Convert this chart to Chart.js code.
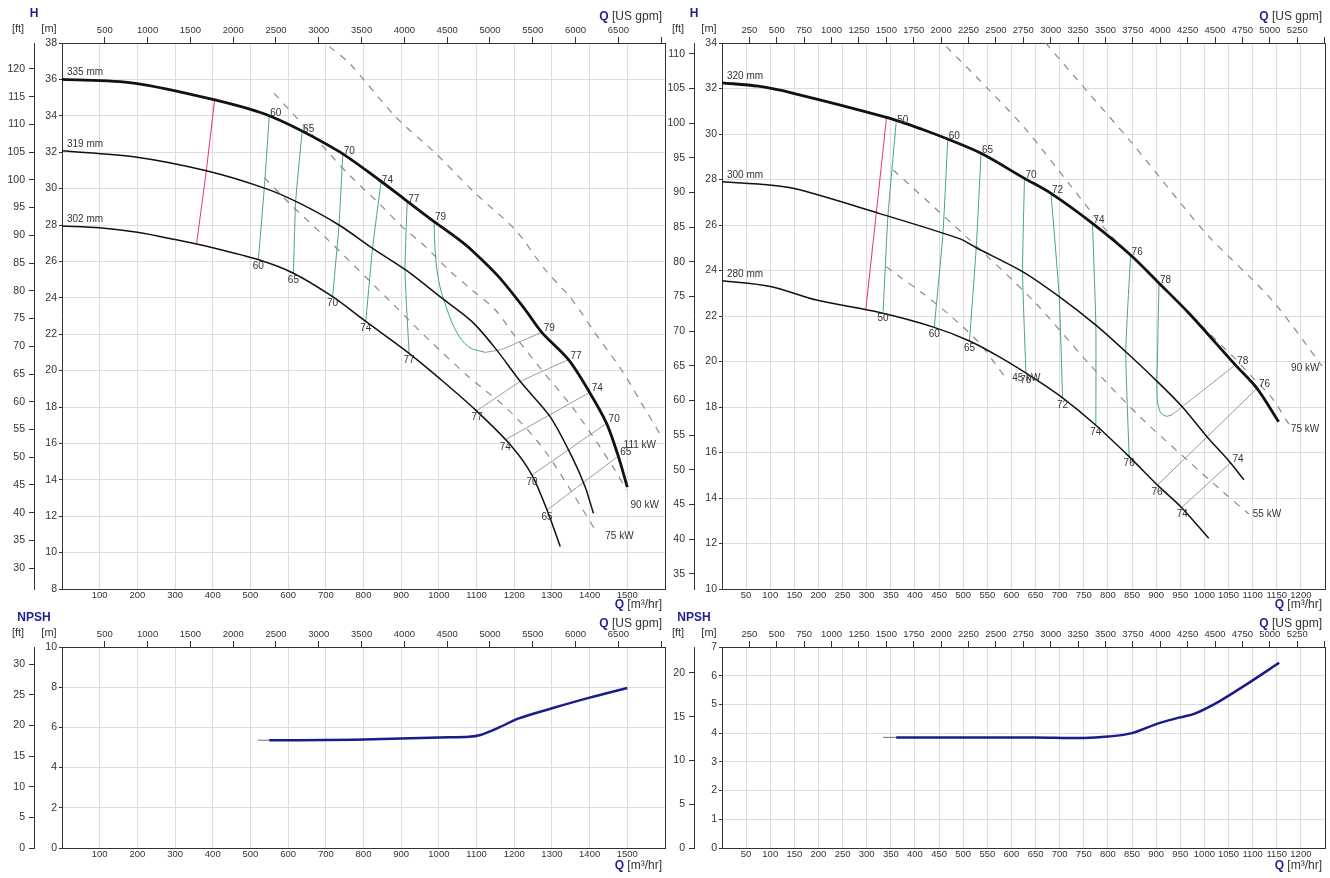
<!DOCTYPE html>
<html><head><meta charset="utf-8">
<script src="https://cdn.jsdelivr.net/npm/chart.js@4.4.1/dist/chart.umd.min.js"></script>
<style>
html,body{margin:0;padding:0;background:#fff;}
body{width:1330px;height:878px;position:relative;overflow:hidden;}
.panel{position:absolute;}
canvas{display:block;}
</style></head><body>
<div class="panel" style="left:0;top:0;"><canvas id="hL" width="668" height="612"></canvas></div>
<div class="panel" style="left:660px;top:0;"><canvas id="hR" width="670" height="612"></canvas></div>
<div class="panel" style="left:0;top:612px;"><canvas id="nL" width="668" height="266"></canvas></div>
<div class="panel" style="left:660px;top:612px;"><canvas id="nR" width="670" height="266"></canvas></div>
<script>
// ---------- unit conversions ----------
const GPM = 4.402868;   // US gpm per m3/hr
const FT = 3.28084;     // ft per m

// ---------- LEFT pump: tick labels ----------
const L_qTicks   = [100,200,300,400,500,600,700,800,900,1000,1100,1200,1300,1400,1500];
const L_gpmTicks = [500,1000,1500,2000,2500,3000,3500,4000,4500,5000,5500,6000,6500,7000];
const L_mTicks   = [8,10,12,14,16,18,20,22,24,26,28,30,32,34,36,38];
const L_ftTicks  = [30,35,40,45,50,55,60,65,70,75,80,85,90,95,100,105,110,115,120];
const LN_mTicks  = [0,2,4,6,8,10];
const LN_ftTicks = [0,5,10,15,20,25,30];

// ---------- LEFT pump: impeller curves [Q m3/hr, H m] ----------
const L_names = ['335 mm','319 mm','302 mm'];
const L_h335 = [[0,36.0],[190,35.8],[400,34.9],[550,34.0],[730,32.1],[840,30.5],[910,29.4],[980,28.3],[1050,27.25],[1088,26.6],[1159,25.15],[1229,23.35],[1273,22.1],[1344,20.6],[1400,18.8],[1445,17.1],[1476,15.3],[1500,13.6]];
const L_h319 = [[0,32.08],[190,31.75],[383,30.98],[541,30.0],[630,29.2],[735,28.0],[824,26.72],[912,25.53],[1009,23.97],[1088,22.69],[1150,21.22],[1220,19.3],[1295,17.47],[1353,15.27],[1388,13.62],[1410,12.16]];
const L_h302 = [[0,27.95],[100,27.85],[200,27.6],[300,27.2],[400,26.75],[520,26.1],[614,25.35],[718,24.06],[806,22.7],[921,20.95],[1000,19.6],[1097,17.84],[1194,15.82],[1247,14.26],[1287,12.34],[1322,10.33]];

// iso-efficiency lines (%)
const L_effVals = [60,65,70,74,77];
const L_eff60 = [[550,34.0],[537,30.1],[521,26.1]];
const L_eff65 = [[637,33.1],[620,29.3],[614,25.35]];
const L_eff70 = [[745,31.9],[735,28.0],[718,24.06]];
const L_eff74 = [[846,30.3],[824,26.72],[806,22.7]];
const L_eff77 = [[916,29.28],[910,25.5],[921,20.95]];
const L_eff79a = [[987,28.27],[991,26.26],[1000,24.9],[1013,23.88],[1044,22.23],[1079,21.3],[1123,21.0]];
const L_eff79b = [[1123,21.0],[1167,21.17],[1216,21.6],[1273,22.1]];
const L_effBVals = [77,74,70,65];
const L_eff77b = [[1344,20.6],[1216,19.4],[1101,17.8]];
const L_eff74b = [[1400,18.8],[1176,16.2]];
const L_eff70b = [[1445,17.1],[1247,14.26]];
const L_eff65b = [[1476,15.3],[1287,12.34]];
const L_minFlow = [[405,34.87],[383,30.98],[357,26.95]];

// power lines
const L_powNames = ['111 kW','90 kW','75 kW'];
const L_p111 = [[709,37.8],[762,36.9],[885,33.95],[991,31.94],[1097,29.74],[1203,27.73],[1280,25.6],[1353,23.9],[1415,22.05],[1485,20.03],[1538,18.2],[1591,16.37]];
const L_p90  = [[563,35.23],[709,31.94],[762,30.75],[841,29.19],[903,27.9],[965,26.8],[1026,25.53],[1088,24.43],[1150,23.33],[1203,21.86],[1273,20.03],[1353,18.02],[1415,16.19],[1467,14.54],[1498,13.44]];
const L_p75  = [[537,30.6],[603,29.2],[700,27.3],[876,23.7],[974,21.68],[1079,19.66],[1185,17.83],[1273,15.82],[1344,13.62],[1415,11.24]];

// NPSH [Q, NPSH m]
const L_npshLead = [[519,5.36],[550,5.36]];
const L_npsh = [[550,5.36],[700,5.37],[850,5.42],[1000,5.5],[1080,5.53],[1110,5.62],[1160,6.0],[1212,6.45],[1300,6.95],[1400,7.48],[1500,7.96]];

// ---------- RIGHT pump: tick labels ----------
const R_qTicks   = [50,100,150,200,250,300,350,400,450,500,550,600,650,700,750,800,850,900,950,1000,1050,1100,1150,1200];
const R_gpmTicks = [250,500,750,1000,1250,1500,1750,2000,2250,2500,2750,3000,3250,3500,3750,4000,4250,4500,4750,5000,5250,5500];
const R_mTicks   = [10,12,14,16,18,20,22,24,26,28,30,32,34];
const R_ftTicks  = [35,40,45,50,55,60,65,70,75,80,85,90,95,100,105,110];
const RN_mTicks  = [0,1,2,3,4,5,6,7];
const RN_ftTicks = [0,5,10,15,20];

// ---------- RIGHT pump: impeller curves ----------
const R_names = ['320 mm','300 mm','280 mm'];
const R_h320 = [[0,32.25],[75,32.1],[148,31.79],[341,30.73],[416,30.2],[465,29.8],[537,29.15],[627,28.05],[682,27.39],[768,26.07],[847,24.68],[906,23.44],[968,22.12],[1064,19.85],[1109,18.82],[1154,17.35]];
const R_h300 = [[0,27.9],[75,27.8],[150,27.6],[327,26.5],[492,25.4],[527,25.0],[623,23.95],[699,22.85],[775,21.6],[837,20.43],[899,19.19],[954,18.01],[1009,16.6],[1050,15.65],[1082,14.8]];
const R_h280 = [[0,23.55],[100,23.3],[196,22.7],[327,22.15],[440,21.5],[513,20.9],[575,20.2],[644,19.3],[706,18.4],[775,17.2],[844,15.82],[906,14.5],[951,13.62],[1009,12.23]];

const R_effVals = [50,60,65,70,72,74,76];
const R_eff50 = [[361,30.5],[344,26.4],[334,22.2]];
const R_eff60 = [[468,29.8],[458,25.63],[440,21.5]];
const R_eff65 = [[537,29.15],[527,25.0],[513,20.9]];
const R_eff70 = [[627,28.05],[623,23.95],[630,19.48]];
const R_eff72 = [[682,27.39],[699,22.85],[706,18.4]];
const R_eff74 = [[768,26.07],[775,21.6],[775,17.2]];
const R_eff76 = [[847,24.68],[837,20.43],[844,15.82]];
const R_eff78a = [[906,23.44],[903,20.5],[902,18.5],[908,17.8],[920,17.6],[932,17.65]];
const R_eff78b = [[932,17.65],[954,18.01],[1064,19.85]];
const R_effBVals = [76,74];
const R_eff76b = [[1109,18.82],[902,14.55]];
const R_eff74b = [[1054,15.55],[954,13.6]];
const R_minFlow = [[341,30.73],[320,26.55],[298,22.27]];

const R_powNames = ['90 kW','75 kW','55 kW','45 kW'];
const R_p90 = [[671,34.0],[760,31.8],[850,29.6],[930,27.5],[1009,25.5],[1140,22.7],[1244,19.8]];
const R_p75 = [[465,33.84],[554,31.93],[630,30.2],[720,27.8],[802,25.63],[870,24.2],[933,22.9],[1000,21.45],[1060,20.2],[1100,19.3],[1140,18.4],[1175,17.25]];
const R_p55 = [[355,28.42],[506,25.49],[644,22.7],[761,19.9],[865,17.6],[968,15.6],[1037,14.3],[1092,13.3]];
const R_p45 = [[340,24.17],[368,23.73],[416,23.0],[472,22.04],[534,20.8],[568,19.85],[589,19.26]];

const R_npshLead = [[334,3.85],[361,3.85]];
const R_npsh = [[361,3.85],[500,3.85],[650,3.85],[750,3.83],[800,3.88],[850,4.0],[906,4.35],[950,4.55],[980,4.68],[1030,5.1],[1092,5.75],[1155,6.45]];

// ---------- styling ----------
const FONT = "'Liberation Sans', Arial, Helvetica, sans-serif";
const TXT = '#333333', AX = '#333333', GRID = '#dddddd';
const GREEN = '#3fa882', GREYL = '#9a9a9a', RED = '#e8336d', DASH = '#8a8a8a', NAVY = '#1b1b8c', BLUE = '#1f1f8f';
const XFONT = {family:FONT, size:9.5}, YFONT = {family:FONT, size:10.5};
const LABFONT = '10px ' + FONT;
Chart.defaults.font.family = FONT;
Chart.defaults.font.size = 10;
Chart.defaults.color = TXT;

function ln(data, color, width, extra){
  return Object.assign({data:data, borderColor:color, borderWidth:width, pointRadius:0, pointHoverRadius:0,
    fill:false, tension:0.3, xAxisID:'x', yAxisID:'y'}, extra||{});
}
function scalesFor(o){
  return {
    x:{type:'linear', position:'bottom', min:0, max:o.qMax,
      afterBuildTicks:s=>{s.ticks=o.qTicks.map(v=>({value:v}));},
      afterFit:s=>{s.height=o.bottomH;},
      ticks:{callback:v=>String(v), autoSkip:false, maxRotation:0, minRotation:0, padding:1, color:TXT, font:XFONT},
      grid:{color:GRID, drawTicks:false, lineWidth:1},
      border:{display:true, color:AX, width:1}},
    xg:{type:'linear', position:'top', min:0, max:o.qMax*GPM,
      afterBuildTicks:s=>{s.ticks=o.gpmTicks.map(v=>({value:v}));},
      afterFit:s=>{s.height=o.topH;},
      ticks:{callback:(v,i,a)=> i===a.length-1 ? '' : String(v), autoSkip:false, maxRotation:0, minRotation:0, padding:1, color:TXT, font:XFONT},
      grid:{drawOnChartArea:false, tickLength:6, tickColor:AX, color:AX},
      border:{display:true, color:AX, width:1}},
    y:{type:'linear', position:'left', min:o.hMin, max:o.hMax, weight:0,
      afterBuildTicks:s=>{s.ticks=o.mTicks.map(v=>({value:v}));},
      afterFit:s=>{s.width=28;},
      ticks:{callback:v=>String(v), autoSkip:false, padding:2, color:TXT, font:YFONT},
      grid:{color:GRID, tickLength:3, tickColor:AX, lineWidth:1},
      border:{display:true, color:AX, width:1}},
    yf:{type:'linear', position:'left', min:o.hMin*FT, max:o.hMax*FT, weight:5,
      afterBuildTicks:s=>{s.ticks=o.ftTicks.map(v=>({value:v}));},
      afterFit:s=>{s.width=34;},
      ticks:{callback:v=>String(v), autoSkip:false, padding:4, color:TXT, font:YFONT},
      grid:{drawOnChartArea:false, tickLength:5, tickColor:AX, color:AX},
      border:{display:true, color:AX, width:1}}
  };
}

// label styles by kind
const KINDS = {
  top:  {align:'left',   base:'alphabetic', dx:1,  dy:0},
  topg: {align:'left',   base:'alphabetic', dx:2,  dy:-1},
  bot:  {align:'center', base:'top',        dx:0,  dy:2},
  name: {align:'left',   base:'alphabetic', dx:5,  dy:-4}
};
const decor = {
  id:'decor',
  afterDatasetsDraw(chart, args, opts){
    const ctx = chart.ctx, a = chart.chartArea, xs = chart.scales.x, ys = chart.scales.y;
    ctx.save();
    ctx.strokeStyle = AX; ctx.lineWidth = 1;
    ctx.beginPath(); ctx.moveTo(Math.round(a.right)+0.5, a.top); ctx.lineTo(Math.round(a.right)+0.5, a.bottom); ctx.stroke();
    (opts.labels||[]).forEach(l=>{
      const k = l.kind ? KINDS[l.kind] : l;
      const px = xs.getPixelForValue(l.q) + (l.dx!==undefined ? l.dx : k.dx);
      const py = ys.getPixelForValue(l.h) + (l.dy!==undefined ? l.dy : k.dy);
      ctx.font = LABFONT; ctx.fillStyle = TXT;
      ctx.textAlign = l.align || k.align; ctx.textBaseline = l.base || k.base;
      ctx.fillText(l.text, px, py);
    });
    (opts.titles||[]).forEach(t=>{
      ctx.textBaseline = 'middle';
      if (t.parts){
        let x = t.x;
        for (let i=t.parts.length-1;i>=0;i--){
          const p = t.parts[i];
          ctx.font = (p.bold?'bold ':'') + (p.size||12) + 'px ' + FONT;
          ctx.fillStyle = p.color; ctx.textAlign = 'right';
          ctx.fillText(p.text, x, t.y);
          x -= ctx.measureText(p.text).width;
        }
      } else {
        ctx.font = (t.bold?'bold ':'') + (t.size||11) + 'px ' + FONT;
        ctx.fillStyle = t.color; ctx.textAlign = 'center';
        ctx.fillText(t.text, t.x, t.y);
      }
    });
    ctx.restore();
  }
};

function qTitle(unit, y){
  return {x:662, y:y, parts:[{text:'Q', bold:true, color:BLUE, size:12},{text:' '+unit, color:TXT, size:12}]};
}
function hTitles(name, yName, yUnits, yGpm, yM3){
  return [
    {text:name, x:34, y:yName, bold:true, color:BLUE, size:12},
    {text:'[ft]', x:18, y:yUnits, color:TXT, size:11},
    {text:'[m]', x:49, y:yUnits, color:TXT, size:11},
    qTitle('[US gpm]', yGpm),
    qTitle('[m\u00b3/hr]', yM3)
  ];
}

function makeChart(id, datasets, o, labels, titles, padRight){
  return new Chart(document.getElementById(id), {
    type:'line',
    data:{datasets:datasets},
    options:{
      responsive:false, animation:false, devicePixelRatio:1, events:[],
      layout:{padding:{left:0, right:padRight, top:0, bottom:0}},
      plugins:{legend:{display:false}, tooltip:{enabled:false}, decor:{labels:labels, titles:titles}},
      scales:scalesFor(o)
    },
    plugins:[decor]
  });
}

function buildLabels(curves, names, effA, effAVals, effB, effBVals, extraTop, pows, powNames, powOff){
  const L = [];
  curves.forEach((c,i)=>L.push({q:c[0][0], h:c[0][1], text:names[i], kind:'name'}));
  effA.forEach((p,i)=>{ L.push({q:p[0][0], h:p[0][1], text:String(effAVals[i]), kind:'top'});
                         L.push({q:p[p.length-1][0], h:p[p.length-1][1], text:String(effAVals[i]), kind:'bot'}); });
  effB.forEach((p,i)=>{ L.push({q:p[0][0], h:p[0][1], text:String(effBVals[i]), kind:'topg'});
                         L.push({q:p[p.length-1][0], h:p[p.length-1][1], text:String(effBVals[i]), kind:'bot'}); });
  extraTop.forEach(e=>L.push({q:e.p[0], h:e.p[1], text:e.t, kind:e.k}));
  pows.forEach((p,i)=>{ const e=p[p.length-1];
    L.push({q:e[0], h:e[1], text:powNames[i], align:'left', base:'middle', dx:powOff[i][0], dy:powOff[i][1]}); });
  return L;
}

// ---------- TOP LEFT ----------
const L_effA = [L_eff60,L_eff65,L_eff70,L_eff74,L_eff77];
const L_effB = [L_eff77b,L_eff74b,L_eff70b,L_eff65b];
const L_pows = [L_p111,L_p90,L_p75];
makeChart('hL', [
  ln(L_h335,'#111',2.8), ln(L_h319,'#111',1.5), ln(L_h302,'#111',1.5),
  ...L_effA.map(p=>ln(p,GREEN,1,{tension:0.15})),
  ln(L_eff79a,GREEN,1,{tension:0.35}), ln(L_eff79b,GREYL,1,{tension:0.2}),
  ...L_effB.map(p=>ln(p,GREYL,1,{tension:0.1})),
  ln(L_minFlow,RED,1,{tension:0}),
  ...L_pows.map(p=>ln(p,DASH,1.2,{borderDash:[7,7],tension:0.3}))
], {qMax:1600, qTicks:L_qTicks, gpmTicks:L_gpmTicks, hMin:8, hMax:38, mTicks:L_mTicks, ftTicks:L_ftTicks, topH:43, bottomH:23},
  buildLabels([L_h335,L_h319,L_h302], L_names, L_effA, L_effVals, L_effB, L_effBVals,
    [{p:L_eff79a[0], t:'79', k:'top'},{p:L_eff79b[L_eff79b.length-1], t:'79', k:'topg'}],
    L_pows, L_powNames, [[-38,9],[4,15],[10,6]]),
  hTitles('H', 14, 29, 17, 605), 3);

// ---------- TOP RIGHT ----------
const R_effA = [R_eff50,R_eff60,R_eff65,R_eff70,R_eff72,R_eff74,R_eff76];
const R_effB = [R_eff76b,R_eff74b];
const R_pows = [R_p90,R_p75,R_p55,R_p45];
makeChart('hR', [
  ln(R_h320,'#111',2.8), ln(R_h300,'#111',1.5), ln(R_h280,'#111',1.5),
  ...R_effA.map(p=>ln(p,GREEN,1,{tension:0.15})),
  ln(R_eff78a,GREEN,1,{tension:0.35}), ln(R_eff78b,GREYL,1,{tension:0.2}),
  ...R_effB.map(p=>ln(p,GREYL,1,{tension:0})),
  ln(R_minFlow,RED,1,{tension:0}),
  ...R_pows.map(p=>ln(p,DASH,1.2,{borderDash:[7,7],tension:0.3}))
], {qMax:1250, qTicks:R_qTicks, gpmTicks:R_gpmTicks, hMin:10, hMax:34, mTicks:R_mTicks, ftTicks:R_ftTicks, topH:43, bottomH:23},
  buildLabels([R_h320,R_h300,R_h280], R_names, R_effA, R_effVals, R_effB, R_effBVals,
    [{p:R_eff78a[0], t:'78', k:'top'},{p:R_eff78b[R_eff78b.length-1], t:'78', k:'topg'}],
    R_pows, R_powNames, [[-31,2],[2,5],[4,0],[6,0]]),
  hTitles('H', 14, 29, 17, 605), 5);

// ---------- BOTTOM LEFT (NPSH) ----------
makeChart('nL', [
  ln(L_npsh,NAVY,2.5,{tension:0.3}), ln(L_npshLead,'#888',1.2,{tension:0})
], {qMax:1600, qTicks:L_qTicks, gpmTicks:L_gpmTicks, hMin:0, hMax:10, mTicks:LN_mTicks, ftTicks:LN_ftTicks, topH:35, bottomH:30},
  [], hTitles('NPSH', 6, 21, 12, 254), 3);

// ---------- BOTTOM RIGHT (NPSH) ----------
makeChart('nR', [
  ln(R_npsh,NAVY,2.5,{tension:0.3}), ln(R_npshLead,'#888',1.2,{tension:0})
], {qMax:1250, qTicks:R_qTicks, gpmTicks:R_gpmTicks, hMin:0, hMax:7, mTicks:RN_mTicks, ftTicks:RN_ftTicks, topH:35, bottomH:30},
  [], hTitles('NPSH', 6, 21, 12, 254), 5);
</script>
</body></html>
